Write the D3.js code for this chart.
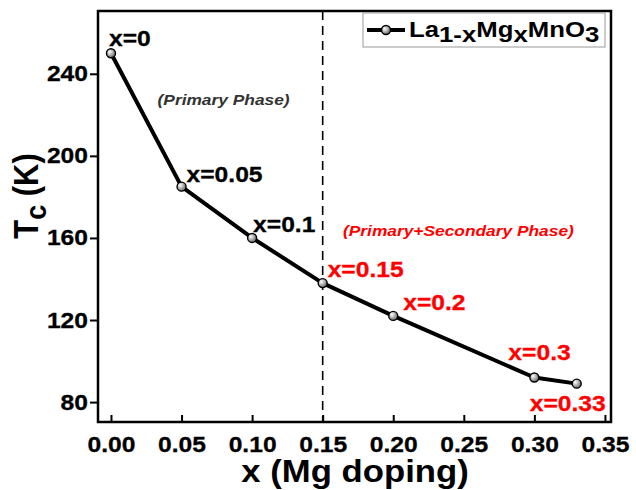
<!DOCTYPE html>
<html>
<head>
<meta charset="utf-8">
<script src="https://cdn.jsdelivr.net/npm/d3@7"></script>
<style>
  body { margin: 0; background: #fff; }
  text { font-family: "Liberation Sans", Arial, sans-serif; }
</style>
</head>
<body>
<div id="chart-area"></div>
<script>
// data
var mgDoping = [0, 0.05, 0.1, 0.15, 0.2, 0.3, 0.33];
var tcValues = [250, 185, 160, 138, 122, 92, 89];
var pointLabels = ["x=0", "x=0.05", "x=0.1", "x=0.15", "x=0.2", "x=0.3", "x=0.33"];
var xTicks = [0, 0.05, 0.1, 0.15, 0.2, 0.25, 0.3, 0.35];
var yTicks = [80, 120, 160, 200, 240];
var phaseBoundary = 0.15;

// label placement (pixel offsets from each point)
var labelOffsets = [[-2, -7], [5, -5], [1, -6], [5, -6], [10, -6], [-26, -17], [-47, 27]];

// the original figure is a little stretched sideways
var STRETCH = 1.12;

var W = 636, H = 490;
var margin = { top: 11, right: 25, bottom: 68, left: 98 },
    width = W - margin.left - margin.right,
    height = H - margin.top - margin.bottom;

var svgRoot = d3.select("#chart-area")
    .append("svg")
    .attr("width", W)
    .attr("height", H);

var grad = svgRoot.append("defs").append("radialGradient")
    .attr("id", "ball")
    .attr("cx", "35%").attr("cy", "35%").attr("r", "65%");
grad.append("stop").attr("offset", "0%").attr("stop-color", "#ffffff");
grad.append("stop").attr("offset", "100%").attr("stop-color", "#6e6e6e");

var svg = svgRoot.append("g")
    .attr("transform", `translate(${margin.left},${margin.top})`);

var x = d3.scaleLinear().domain([-0.0092, 0.3543]).range([0, width]);
var y = d3.scaleLinear().domain([70.3, 270.6]).range([height, 0]);

var points = mgDoping.map((d, i) => ({ x: d, tc: tcValues[i], label: pointLabels[i], off: labelOffsets[i] }));

function stretch(sel) {
    sel.each(function () {
        var t = d3.select(this);
        var tx = +t.attr("x") || 0;
        t.attr("transform", `matrix(${STRETCH},0,0,1,${tx * (1 - STRETCH)},0)`);
    });
}

// axes
var xAxis = d3.axisBottom(x)
    .tickValues(xTicks)
    .tickSize(-7)
    .tickPadding(14)
    .tickFormat(d3.format(".2f"));

var yAxis = d3.axisLeft(y)
    .tickValues(yTicks)
    .tickSize(8)
    .tickPadding(2);

var gx = svg.append("g")
    .attr("transform", `translate(0,${height})`)
    .call(xAxis);

var gy = svg.append("g")
    .call(yAxis);

[gx, gy].forEach(g => {
    g.select(".domain").remove();
    g.selectAll(".tick line").attr("stroke", "#000").attr("stroke-width", 2);
    g.selectAll(".tick text")
        .attr("fill", "#000")
        .attr("font-size", "22px")
        .attr("font-weight", "bold")
        .attr("stroke", "#000")
        .attr("stroke-width", 0.3)
        .style("font-family", "'Liberation Sans', Arial, sans-serif")
        .call(stretch);
});

// dashed phase boundary
svg.append("line")
    .attr("x1", x(phaseBoundary)).attr("x2", x(phaseBoundary))
    .attr("y1", 0).attr("y2", height)
    .attr("stroke", "#000")
    .attr("stroke-width", 1.6)
    .attr("stroke-dasharray", "9,6");

// frame
svg.append("rect")
    .attr("x", 0).attr("y", 0)
    .attr("width", width).attr("height", height)
    .attr("fill", "none")
    .attr("stroke", "#000")
    .attr("stroke-width", 2.5);

// line + markers
var line = d3.line().x(d => x(d.x)).y(d => y(d.tc));

svg.append("path")
    .datum(points)
    .attr("d", line)
    .attr("fill", "none")
    .attr("stroke", "#000")
    .attr("stroke-width", 4)
    .attr("stroke-linejoin", "round");

svg.selectAll(".pt")
    .data(points)
    .enter()
    .append("circle")
    .attr("class", "pt")
    .attr("cx", d => x(d.x))
    .attr("cy", d => y(d.tc))
    .attr("r", 4.5)
    .attr("fill", "url(#ball)")
    .attr("stroke", "#000")
    .attr("stroke-width", 1.4);

// point labels
svg.selectAll(".pt-label")
    .data(points)
    .enter()
    .append("text")
    .attr("class", "pt-label")
    .attr("x", d => x(d.x) + d.off[0])
    .attr("y", d => y(d.tc) + d.off[1])
    .attr("font-size", "22px")
    .attr("font-weight", "bold")
    .attr("fill", d => d.x > phaseBoundary - 0.001 ? "#ff0000" : "#000")
    .attr("stroke", d => d.x > phaseBoundary - 0.001 ? "#ff0000" : "#000")
    .attr("stroke-width", 0.3)
    .text(d => d.label)
    .call(stretch);

// phase annotations
svg.append("text")
    .attr("x", x(0.033))
    .attr("y", y(225))
    .attr("font-size", "15.5px")
    .attr("font-weight", "bold")
    .attr("font-style", "italic")
    .attr("fill", "#333")
    .text("(Primary Phase)")
    .call(stretch);

svg.append("text")
    .attr("x", x(0.1644))
    .attr("y", y(160.7))
    .attr("font-size", "15.5px")
    .attr("font-weight", "bold")
    .attr("font-style", "italic")
    .attr("fill", "#ff0000")
    .text("(Primary+Secondary Phase)")
    .call(stretch);

// legend
var legend = svg.append("g")
    .attr("transform", `translate(${363 - margin.left},${13 - margin.top})`);

legend.append("rect")
    .attr("width", 242).attr("height", 34)
    .attr("fill", "#fff")
    .attr("stroke", "#999")
    .attr("stroke-width", 1);

legend.append("line")
    .attr("x1", 4).attr("x2", 42)
    .attr("y1", 17).attr("y2", 17)
    .attr("stroke", "#000").attr("stroke-width", 4);

legend.append("circle")
    .attr("cx", 23).attr("cy", 17).attr("r", 4.5)
    .attr("fill", "url(#ball)")
    .attr("stroke", "#000").attr("stroke-width", 1.4);

var lt = legend.append("text")
    .attr("x", 46).attr("y", 24)
    .attr("font-size", "23px")
    .attr("font-weight", "bold")
    .attr("fill", "#000");
lt.append("tspan").text("La");
lt.append("tspan").attr("dy", 5).text("1-x");
lt.append("tspan").attr("dy", -5).text("Mg");
lt.append("tspan").attr("dy", 5).text("x");
lt.append("tspan").attr("dy", -5).text("MnO");
lt.append("tspan").attr("dy", 5).text("3");
lt.call(stretch);

// axis titles
svg.append("text")
    .attr("x", 355 - margin.left)
    .attr("y", 482 - margin.top)
    .attr("text-anchor", "middle")
    .attr("font-size", "31px")
    .attr("font-weight", "bold")
    .text("x (Mg doping)")
    .call(stretch);

var yl = svg.append("text")
    .attr("transform", `translate(-60,${196 - margin.top}) scale(${STRETCH},1) rotate(-90)`)
    .attr("text-anchor", "middle")
    .attr("font-size", "31px")
    .attr("font-weight", "bold");
yl.append("tspan").text("T");
yl.append("tspan").attr("dy", 7).attr("font-size", "27px").text("c");
yl.append("tspan").attr("dy", -7).text(" (K)");
</script>
</body>
</html>
